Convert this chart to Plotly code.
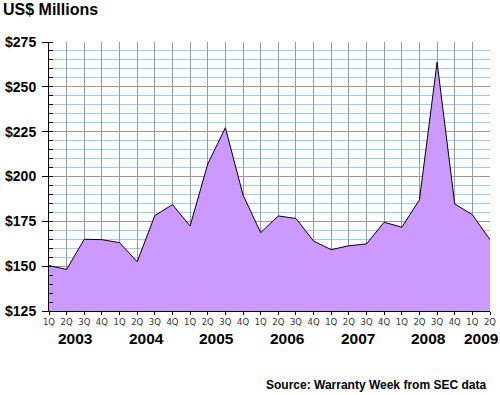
import plotly.graph_objects as go

# ---- data ----
quarter_labels = ["1Q", "2Q", "3Q", "4Q"] * 6 + ["1Q", "2Q"]
years = ["2003", "2004", "2005", "2006", "2007", "2008", "2009"]
quarters_per_year = [4, 4, 4, 4, 4, 4, 2]
values = [150.3, 148.2, 165.0, 164.8, 163.1, 152.5, 178.2, 184.3,
          172.4, 207.0, 227.2, 189.7, 168.7, 178.0, 176.6, 164.0,
          159.2, 161.4, 162.4, 174.5, 171.7, 187.0, 263.7, 184.7,
          178.7, 164.8]
y_ticks = [125, 150, 175, 200, 225, 250, 275]

x_idx = list(range(len(values)))

fig = go.Figure()
fig.add_trace(go.Scatter(
    x=x_idx, y=values, mode="lines", fill="tozeroy",
    fillcolor="#cc99ff", line=dict(color="black", width=1),
    hoverinfo="skip", showlegend=False,
))

# year label positions (centre of each year's quarters)
annotations = []
start = 0
for yr, n in zip(years, quarters_per_year):
    centre = start + (n - 1) / 2
    annotations.append(dict(
        x=centre, xref="x", y=-0.1004, yref="paper",
        text=yr, showarrow=False, xanchor="center", yanchor="middle",
        font=dict(family="Liberation Sans", size=15.5, color="black", weight="bold"),
    ))
    start += n

annotations.append(dict(
    x=0.9955, xref="paper", y=-0.275, yref="paper",
    text="Source: Warranty Week from SEC data", showarrow=False,
    xanchor="right", yanchor="middle",
    font=dict(family="Liberation Sans", size=12, color="black", weight="bold"),
))

fig.update_layout(
    width=500, height=395,
    margin=dict(l=49, r=10, t=42, b=84, autoexpand=False),
    paper_bgcolor="white", plot_bgcolor="white",
    title=dict(text="US$ Millions", x=0.006, xanchor="left", xref="container",
               y=1 - 9 / 395, yanchor="middle", yref="container", automargin=False,
               font=dict(family="Liberation Sans", size=16, color="black", weight="bold")),
    xaxis=dict(
        range=[0, len(values) - 1], tickmode="array", tickvals=x_idx,
        ticktext=quarter_labels, showgrid=True, gridcolor="#999999", gridwidth=1,
        showline=True, linecolor="black", linewidth=1, zeroline=False,
        ticks="outside", ticklen=3, tickcolor="black",
        tickfont=dict(family="DejaVu Sans", size=8.5, color="#333333"),
        fixedrange=True, automargin=False,
    ),
    yaxis=dict(
        range=[125, 275], tickmode="array", tickvals=y_ticks,
        ticktext=["$" + str(v) for v in y_ticks],
        showgrid=True, gridcolor="#999999", gridwidth=1,
        minor=dict(dtick=5, tick0=125, showgrid=True, gridcolor="#99ccff",
                   gridwidth=1, ticks="inside", ticklen=4, tickcolor="black"),
        showline=True, linecolor="black", linewidth=1, zeroline=False,
        ticks="outside", ticklen=6, tickcolor="black",
        tickfont=dict(family="Liberation Sans", size=14, color="black", weight="bold"),
        ticklabelstandoff=3,
        fixedrange=True, automargin=False,
    ),
    yaxis2=dict(
        range=[125, 275], overlaying="y", side="left", tickmode="array",
        tickvals=y_ticks, showticklabels=False, showgrid=False, zeroline=False,
        ticks="inside", ticklen=4, tickcolor="black", showline=False,
        fixedrange=True, automargin=False,
    ),
    annotations=annotations,
    showlegend=False,
)

fig.write_html("out.html", config={"displayModeBar": False},
               post_script="document.body.style.margin='0px';document.body.style.overflow='hidden';")
